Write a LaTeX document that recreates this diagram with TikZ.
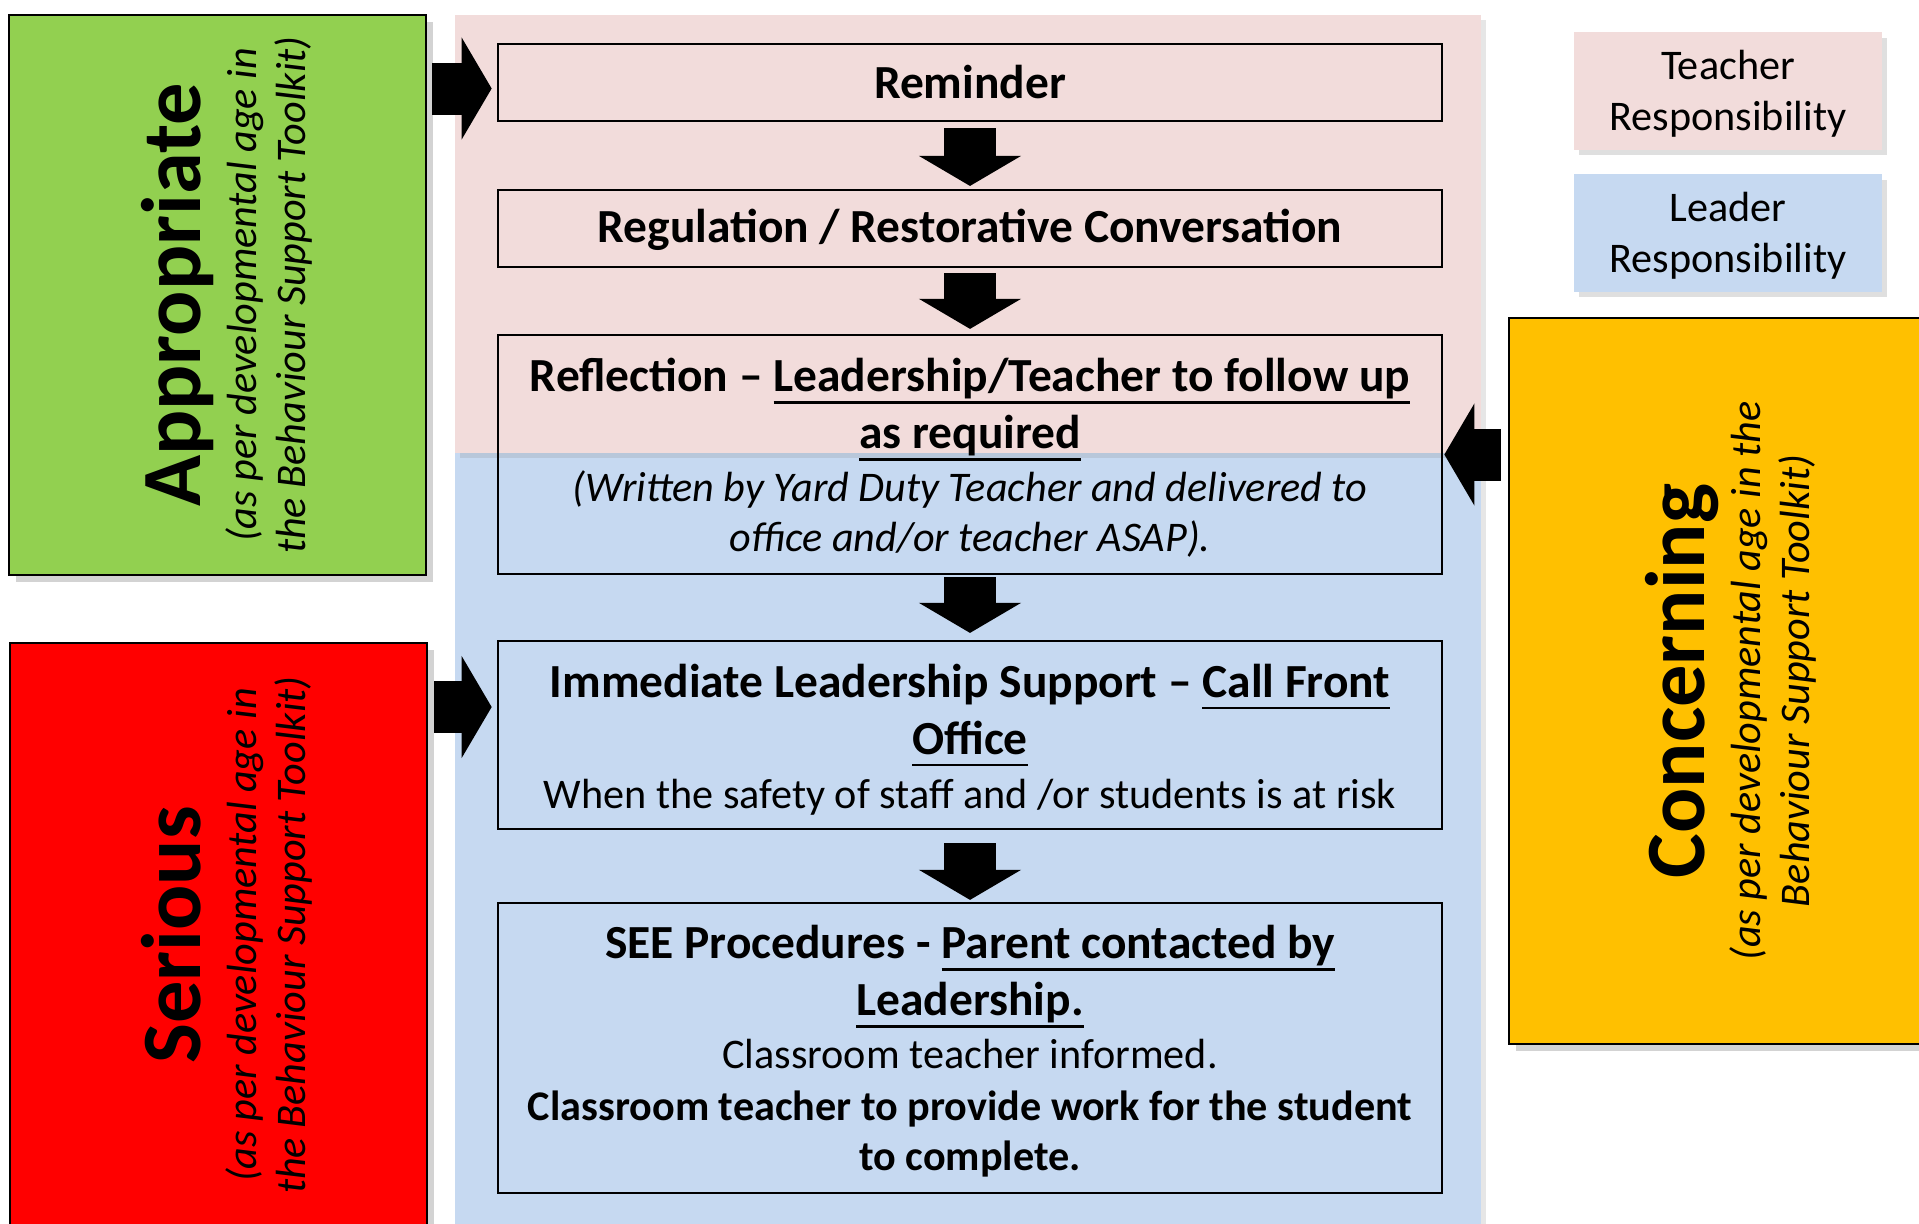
\documentclass[tikz,border=0pt]{standalone}
\usepackage{fontspec}
\setmainfont{Carlito}
\usetikzlibrary{positioning,arrows.meta,calc,shadows}

\definecolor{greenlevel}{HTML}{92D050}
\definecolor{redlevel}{HTML}{FF0000}
\definecolor{orangelevel}{HTML}{FFC000}
\definecolor{teacherpink}{HTML}{F2DCDB}
\definecolor{leaderblue}{HTML}{C6D9F1}

% thick underline for the linked parts
\newcommand{\lineunder}[1]{\setbox0\hbox{#1}\leavevmode\rlap{\rule[-3.3pt]{\wd0}{0.8pt}}\box0}
% struts that fix where the lines sit in a box
\newcommand{\highstrut}[1]{\rule{0pt}{#1}}
\newcommand{\lowstrut}{\rule[-3.5pt]{0pt}{3.5pt}}

\begin{document}
\begin{tikzpicture}[
		x=0.01cm, y=-0.01cm,
		stepbox/.style={draw=black, line width=0.6pt, inner sep=0pt, minimum width=9.44cm, text width=9.4cm, align=flush center, font=\fontsize{13.5}{16.2}\selectfont},
		levelbox/.style={draw=black, line width=0.6pt, inner sep=0pt, minimum width=4.17cm, drop shadow={shadow xshift=2pt, shadow yshift=-2pt, opacity=0.35}},
		leveltext/.style={rotate=90, align=center, inner sep=0pt, font=\fontsize{12}{14}\selectfont},
		keybox/.style={inner sep=0pt, minimum width=3.08cm, minimum height=1.17cm, align=center, font=\fontsize{12}{14.5}\selectfont, drop shadow={shadow xshift=1.5pt, shadow yshift=-1.5pt, opacity=0.25}},
		panel/.style={drop shadow={shadow xshift=1.5pt, shadow yshift=-1.5pt, opacity=0.2}},
		bigarrow/.style={line width=0.52cm, -{Triangle[width=1.02cm, length=0.3cm, line width=0pt]}}
	]
	\clip (0,0) rectangle (1919,1223);

	% who is responsible
	\fill[leaderblue, panel] (455,453) rectangle (1481,1260);
	\fill[teacherpink, panel] (455,15) rectangle (1481,453);

	\node[keybox, fill=teacherpink] (teacherkey) at (1728,91) {\highstrut{11.4pt}Teacher\\Responsibility\lowstrut};
	\node[keybox, fill=leaderblue] (leaderkey) at (1728,233) {\highstrut{11.4pt}Leader\\Responsibility\lowstrut};

	% behaviour levels
	\node[levelbox, fill=greenlevel, minimum height=5.6cm] (appropriate) at (217.5,295) {};
	\node[leveltext] (appropriatetext) at (227,295) {{\fontsize{24}{24}\selectfont\bfseries Appropriate}\\[2pt] {\itshape (as per developmental age in}\\ {\itshape the Behaviour Support Toolkit)}};

	\node[levelbox, fill=redlevel, minimum height=5.84cm] (serious) at (218.5,935) {};
	\node[leveltext] (serioustext) at (227,935) {{\fontsize{24}{24}\selectfont\bfseries Serious}\\[2pt] {\itshape (as per developmental age in}\\ {\itshape the Behaviour Support Toolkit)}};

	\node[levelbox, fill=orangelevel, minimum width=4.19cm, minimum height=7.26cm] (concerning) at (1718.5,681) {};
	\node[leveltext] (concerningtext) at (1731,681) {{\fontsize{24}{24}\selectfont\bfseries Concerning}\\[2pt] {\itshape (as per developmental age in the}\\ {\itshape Behaviour Support Toolkit)}};

	% steps
	\node[stepbox, minimum height=0.77cm] (reminder) at (970,82.5) {\highstrut{12.6pt}\textbf{Reminder}\lowstrut};
	\node[stepbox, minimum height=0.77cm] (regulation) at (970,228.5) {\highstrut{11.6pt}\textbf{Regulation / Restorative Conversation}\lowstrut};
	\node[stepbox, minimum height=2.39cm] (reflection) at (970,454.5) {\highstrut{13.4pt}\textbf{Reflection -- \lineunder{Leadership/Teacher to follow up}}\\ \textbf{\lineunder{as required}}\\[1pt] {\fontsize{12}{14}\selectfont\itshape (Written by Yard Duty Teacher and delivered to\\[-1.9pt] office and/or teacher ASAP).}\lowstrut};
	\node[stepbox, minimum height=1.88cm] (immediate) at (970,735) {\highstrut{13.9pt}\textbf{Immediate Leadership Support -- \lineunder{Call Front}}\\ \textbf{\lineunder{Office}}\\[-0.8pt] {\fontsize{12}{14}\selectfont When the safety of staff and /or students is at risk}\lowstrut};
	\node[stepbox, minimum height=2.9cm] (procedures) at (970,1048) {\highstrut{12.9pt}\textbf{SEE Procedures - \lineunder{Parent contacted by}}\\ \textbf{\lineunder{Leadership.}}\\[-1.3pt] {\fontsize{12}{14}\selectfont Classroom teacher informed.}\\[-1.5pt] {\fontsize{12}{14}\selectfont\bfseries Classroom teacher to provide work for the student}\\[-1.95pt] {\fontsize{12}{14}\selectfont\bfseries to complete.}\lowstrut};

	\draw[bigarrow, shorten <=0.06cm, shorten >=0.03cm] (reminder) -- (regulation);
	\draw[bigarrow, shorten <=0.05cm, shorten >=0.05cm] (regulation) -- (reflection);
	\draw[bigarrow, shorten <=0.02cm, shorten >=0.07cm] (reflection) -- (immediate);
	\draw[bigarrow, shorten <=0.13cm, shorten >=0.02cm] (immediate) -- (procedures);

	\draw[bigarrow, shorten <=0.05cm, shorten >=0.05cm] ($(appropriate.east |- reminder.west)+(0,6)$) -- ($(reminder.west)+(0,6)$);
	\draw[bigarrow, shorten <=0.06cm, shorten >=0.05cm] ($(serious.east |- immediate.west)+(0,-28)$) -- ($(immediate.west)+(0,-28)$);
	\draw[bigarrow, shorten <=0.07cm, shorten >=0.01cm] (concerning.west |- reflection.east) -- (reflection.east);
\end{tikzpicture}
\end{document}
